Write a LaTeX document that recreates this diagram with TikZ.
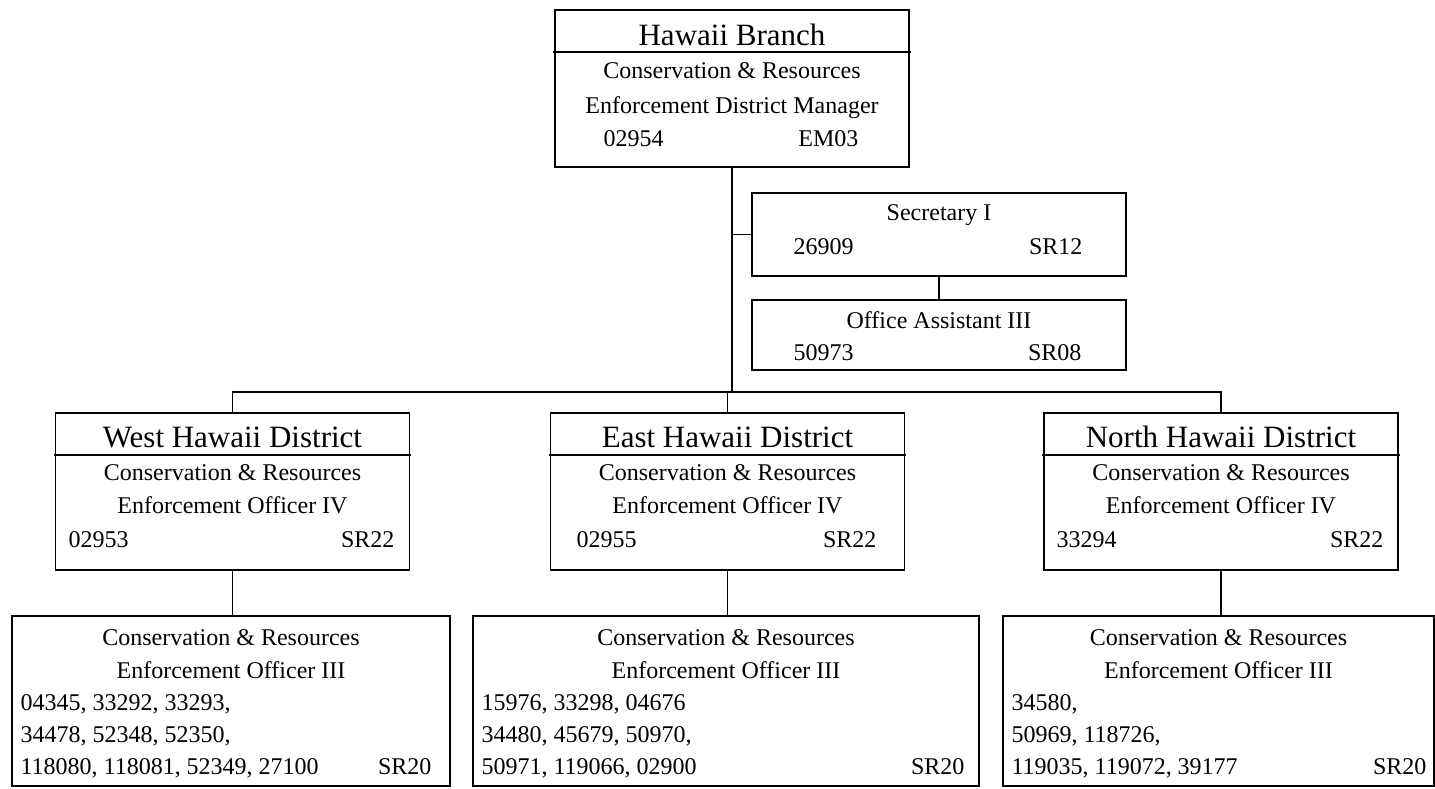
\documentclass[tikz,border=0pt]{standalone}
\usepackage{fontspec}
\setmainfont{Liberation Serif}
\usepackage{tikz}

\tikzset{
  box/.style={draw, line width=1.6pt, inner sep=0pt},
  link/.style={line width=1.6pt, line cap=rect},
  ttl/.style={anchor=base, font=\fontsize{31}{36}\selectfont},
  txt/.style={anchor=base, font=\fontsize{24}{28}\selectfont},
  lft/.style={txt, anchor=base west},
  rgt/.style={txt, anchor=base east}
}

\begin{document}
\begin{tikzpicture}[x=1pt, y=-1pt]
    \useasboundingbox (0,0) rectangle (1435,788);
    % branch manager
    \node[box, minimum width=354pt, minimum height=157pt] (branch) at (732,88.5) {};
    \draw[link] ([yshift=-43pt]branch.north west) -- ([yshift=-43pt]branch.north east);
    \node[ttl] (branchT) at (732,45) {Hawaii Branch};
    \node[txt] (branchA) at (732,78) {Conservation \& Resources};
    \node[txt] (branchB) at (732,113) {Enforcement District Manager};
    \node[lft] (branchN) at (600,146) {02954};
    \node[rgt] (branchG) at (862,146) {EM03};
    % staff
    \node[box, minimum width=374pt, minimum height=83pt] (sec) at (939,234.5) {};
    \node[txt] (secT) at (939,220) {Secretary I};
    \node[lft] (secN) at (790,254) {26909};
    \node[rgt] (secG) at (1086,254) {SR12};
    \node[box, minimum width=374pt, minimum height=70pt] (oa) at (939,335) {};
    \node[txt] (oaT) at (939,328) {Office Assistant III};
    \node[lft] (oaN) at (790,360) {50973};
    \node[rgt] (oaG) at (1085,360) {SR08};
    % districts
    \foreach \d/\cx/\nx/\gx/\num/\place in {west/232.5/65/398/02953/West, east/727.5/573/880/02955/East, north/1221/1053/1387/33294/North} {
        \node[box, minimum width=354pt, minimum height=157pt] (\d) at (\cx,491.5) {};
        \draw[link] ([yshift=-43pt]\d.north west) -- ([yshift=-43pt]\d.north east);
        \node[ttl] (\d-ttl) at (\cx,447) {\place\ Hawaii District};
        \node[txt] (\d-a) at (\cx,480) {Conservation \& Resources};
        \node[txt] (\d-b) at (\cx,513) {Enforcement Officer IV};
        \node[lft] (\d-num) at (\nx,547) {\num};
        \node[rgt] (\d-grade) at (\gx,547) {SR22};
    }
    % officers
    \node[box, minimum width=438pt, minimum height=170pt] (westlow) at (231,701) {};
    \node[txt] (westlowA) at (231,645) {Conservation \& Resources};
    \node[txt] (westlowB) at (231,678) {Enforcement Officer III};
    \node[lft] (westlowC) at (17,710) {04345, 33292, 33293,};
    \node[lft] (westlowD) at (17,742) {34478, 52348, 52350,};
    \node[lft] (westlowE) at (17,774) {118080, 118081, 52349, 27100};
    \node[rgt] (westlowG) at (435,774) {SR20};
    \node[box, minimum width=506pt, minimum height=170pt] (eastlow) at (726,701) {};
    \node[txt] (eastlowA) at (726,645) {Conservation \& Resources};
    \node[txt] (eastlowB) at (726,678) {Enforcement Officer III};
    \node[lft] (eastlowC) at (478,710) {15976, 33298, 04676};
    \node[lft] (eastlowD) at (478,742) {34480, 45679, 50970,};
    \node[lft] (eastlowE) at (478,774) {50971, 119066, 02900};
    \node[rgt] (eastlowG) at (968,774) {SR20};
    \node[box, minimum width=431pt, minimum height=170pt] (northlow) at (1218.5,701) {};
    \node[txt] (northlowA) at (1218.5,645) {Conservation \& Resources};
    \node[txt] (northlowB) at (1218.5,678) {Enforcement Officer III};
    \node[lft] (northlowC) at (1008,710) {34580,};
    \node[lft] (northlowD) at (1008,742) {50969, 118726,};
    \node[lft] (northlowE) at (1008,774) {119035, 119072, 39177};
    \node[rgt] (northlowG) at (1430,774) {SR20};
    % connectors
    \coordinate (bus) at (732,392);
    \draw[link] (branch.south) -- (bus);
    \draw[link] (branch.south |- sec.west) -- (sec.west);
    \draw[link] (sec.south) -- (oa.north);
    \draw[link] (west.north |- bus) -- (north.north |- bus);
    \draw[link] (west.north |- bus) -- (west.north);
    \draw[link] (east.north |- bus) -- (east.north);
    \draw[link] (north.north |- bus) -- (north.north);
    \draw[link] (west.south) -- (west.south |- westlow.north);
    \draw[link] (east.south) -- (east.south |- eastlow.north);
    \draw[link] (north.south) -- (north.south |- northlow.north);
\end{tikzpicture}
\end{document}
